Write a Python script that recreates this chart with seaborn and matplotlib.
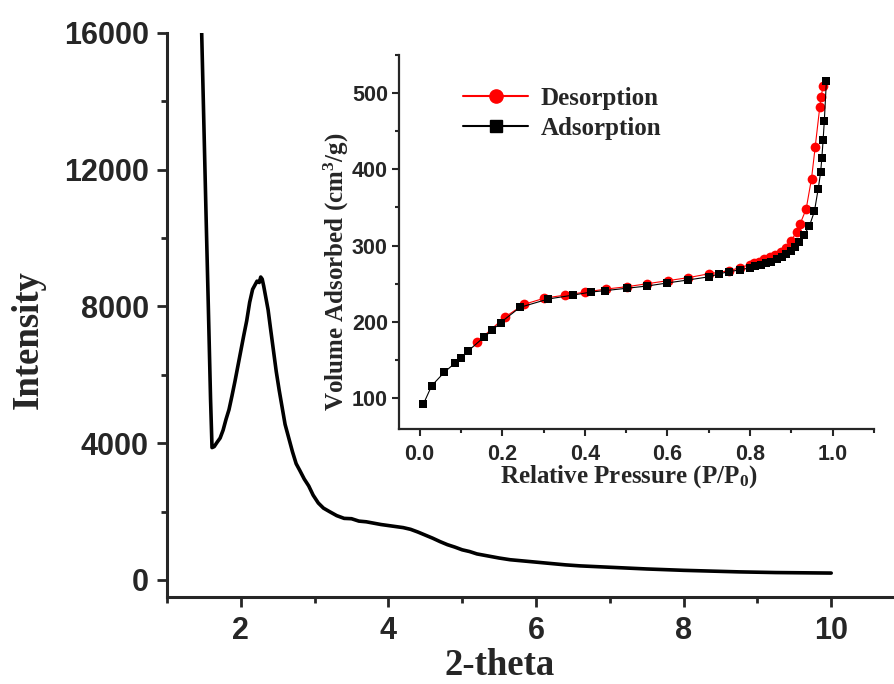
import numpy as np
import pandas as pd
import seaborn as sns
import matplotlib.pyplot as plt
from matplotlib.lines import Line2D
from matplotlib.ticker import MultipleLocator

sns.set_style("ticks")
plt.rcParams['font.family'] = ['Liberation Sans', 'DejaVu Sans']
plt.rcParams['font.weight'] = 'bold'
plt.rcParams['mathtext.fontset'] = 'custom'
plt.rcParams['mathtext.rm'] = 'Liberation Serif:bold'
plt.rcParams['mathtext.default'] = 'rm'

# XRD pattern
two_theta = [1.47, 1.50, 1.53, 1.56, 1.59, 1.61, 1.64, 1.68, 1.72, 1.76, 1.80, 1.84,
             1.88, 1.92, 1.96, 2.00, 2.04, 2.08, 2.12, 2.16, 2.19, 2.22, 2.25, 2.27,
             2.29, 2.31, 2.34, 2.37, 2.40, 2.44, 2.48, 2.52, 2.56, 2.60, 2.65, 2.70,
             2.75, 2.80, 2.86, 2.92, 2.98, 3.05, 3.12, 3.20, 3.30, 3.40, 3.50, 3.60,
             3.70, 3.80, 3.90, 4.00, 4.10, 4.20, 4.30, 4.40, 4.50, 4.60, 4.70, 4.80,
             4.90, 5.00, 5.10, 5.20, 5.35, 5.50, 5.65, 5.80, 6.00, 6.20, 6.40, 6.60,
             6.80, 7.00, 7.25, 7.50, 7.75, 8.00, 8.25, 8.50, 8.75, 9.00, 9.25, 9.50,
             9.75, 10.00]
intensity = [16000, 13300, 10600, 8000, 5300, 3870, 3900, 4030, 4150, 4380, 4700, 4980,
             5380, 5800, 6250, 6700, 7150, 7580, 8120, 8500, 8620, 8740, 8700, 8860,
             8800, 8600, 8250, 7900, 7400, 6750, 6100, 5550, 5050, 4550, 4150, 3750,
             3400, 3200, 2950, 2750, 2480, 2250, 2100, 2000, 1880, 1800, 1790, 1720,
             1700, 1660, 1620, 1590, 1560, 1530, 1480, 1400, 1310, 1220, 1120, 1030,
             960, 880, 830, 760, 700, 640, 590, 560, 520, 480, 440, 410,
             390, 370, 345, 320, 300, 280, 265, 250, 235, 225, 215, 210,
             205, 200]

# N2 isotherm (inset)
p_ads = [0.009, 0.029, 0.060, 0.086, 0.100, 0.118, 0.156, 0.176, 0.196, 0.243,
         0.312, 0.371, 0.414, 0.450, 0.501, 0.551, 0.600, 0.651, 0.700, 0.726,
         0.750, 0.775, 0.800, 0.813, 0.826, 0.839, 0.852, 0.865, 0.877, 0.888,
         0.899, 0.909, 0.919, 0.931, 0.944, 0.956, 0.965, 0.971, 0.974, 0.977,
         0.980, 0.985]
v_ads = [92, 116, 134, 146, 153, 162, 180, 189, 199, 219,
         230, 235, 239, 241, 244, 247, 251, 255, 259, 263,
         266, 268, 271, 273, 275, 277, 279, 282, 285, 289,
         293, 298, 305, 314, 326, 345, 374, 396, 415, 438,
         464, 516]
p_des = [0.138, 0.206, 0.253, 0.302, 0.351, 0.401, 0.451, 0.501, 0.551, 0.601,
         0.651, 0.700, 0.750, 0.775, 0.800, 0.810, 0.822, 0.835, 0.848, 0.861,
         0.874, 0.887, 0.899, 0.913, 0.921, 0.936, 0.949, 0.958, 0.969, 0.972,
         0.977]
v_des = [173, 206, 223, 231, 235, 239, 243, 246, 250, 254,
         258, 263, 267, 271, 275, 277, 279, 282, 285, 288,
         292, 297, 306, 318, 328, 348, 388, 430, 482, 495,
         509]

xrd = pd.DataFrame({'2-theta': two_theta, 'Intensity': intensity})
ads = pd.DataFrame({'p': p_ads, 'v': v_ads})
des = pd.DataFrame({'p': p_des, 'v': v_des})

fig = plt.figure(figsize=(8.94, 6.84), dpi=100)

# main XRD axes
ax = fig.add_axes([0.1868, 0.1272, 0.8255, 0.8246])
sns.lineplot(data=xrd, x='2-theta', y='Intensity', ax=ax, color='k', lw=2.6,
             sort=False, estimator=None)
ax.set_xlim(1, 11)
ax.set_ylim(-500, 16000)
ax.xaxis.set_major_locator(MultipleLocator(2))
ax.xaxis.set_minor_locator(MultipleLocator(1))
ax.yaxis.set_major_locator(MultipleLocator(4000))
ax.yaxis.set_minor_locator(MultipleLocator(2000))
sns.despine(ax=ax)
for s in ['left', 'bottom']:
    ax.spines[s].set_linewidth(2.2)
ax.tick_params(which='major', length=7, width=2, labelsize=22, pad=6, direction='out')
ax.tick_params(which='minor', length=4, width=2, direction='out')
ax.tick_params(axis='x', which='major', pad=7)
ax.set_xlabel('2-theta', fontsize=26.5, fontweight='bold', family='Liberation Serif')
ax.set_ylabel('Intensity', fontsize=26.5, fontweight='bold', family='Liberation Serif')
ax.xaxis.label.set_va('center')
ax.yaxis.label.set_va('center')
ax.xaxis.set_label_coords(0.451, -0.1206)
ax.yaxis.set_label_coords(-0.1883, 0.4557)

# inset isotherm
ins = fig.add_axes([0.4463, 0.3735, 0.5312, 0.546])
sns.lineplot(data=des, x='p', y='v', ax=ins, color='red', lw=0.8, marker='o',
             markersize=7, mec='red', mfc='red', mew=0, sort=False, estimator=None)
sns.lineplot(data=ads, x='p', y='v', ax=ins, color='k', lw=0.8, marker='s',
             markersize=5.5, mec='k', mfc='k', mew=0, sort=False, estimator=None)
ins.set_xlim(-0.05, 1.1)
ins.set_ylim(60, 550)
ins.xaxis.set_major_locator(MultipleLocator(0.2))
ins.xaxis.set_minor_locator(MultipleLocator(0.1))
ins.yaxis.set_major_locator(MultipleLocator(100))
ins.yaxis.set_minor_locator(MultipleLocator(50))
ins.set_xticks([0.0, 0.2, 0.4, 0.6, 0.8, 1.0])
sns.despine(ax=ins)
ins.patch.set_alpha(0)
for s in ['left', 'bottom']:
    ins.spines[s].set_linewidth(1.6)
ins.tick_params(which='major', length=5, width=1.5, labelsize=15.5, direction='out')
ins.tick_params(which='minor', length=3, width=1.5, direction='out')
ins.tick_params(axis='x', which='major', pad=6)
ins.tick_params(axis='y', which='major', pad=3)
ins.set_xlabel('Relative Pressure (P/P$_0$)', fontsize=18, fontweight='bold',
               family='Liberation Serif')
ins.set_ylabel('Volume Adsorbed (cm$^3$/g)', fontsize=18, fontweight='bold',
               family='Liberation Serif')
ins.xaxis.label.set_va('center')
ins.yaxis.label.set_va('center')
ins.xaxis.set_label_coords(0.4843, -0.1299)
ins.yaxis.set_label_coords(-0.1316, 0.4198)

handles = [Line2D([], [], color='red', lw=1.5, marker='o', markersize=9.5, mec='red', mfc='red'),
           Line2D([], [], color='k', lw=1.5, marker='s', markersize=8, mec='k', mfc='k')]
ins.legend(handles, ['Desorption', 'Adsorption'], loc='upper left',
           bbox_to_anchor=(0.1348, 0.914), frameon=False, borderpad=0, borderaxespad=0,
           handlelength=2.6, handletextpad=0.5, labelspacing=0.28,
           prop={'family': 'Liberation Serif', 'weight': 'bold', 'size': 18})

fig.savefig('out.png', dpi=100)
